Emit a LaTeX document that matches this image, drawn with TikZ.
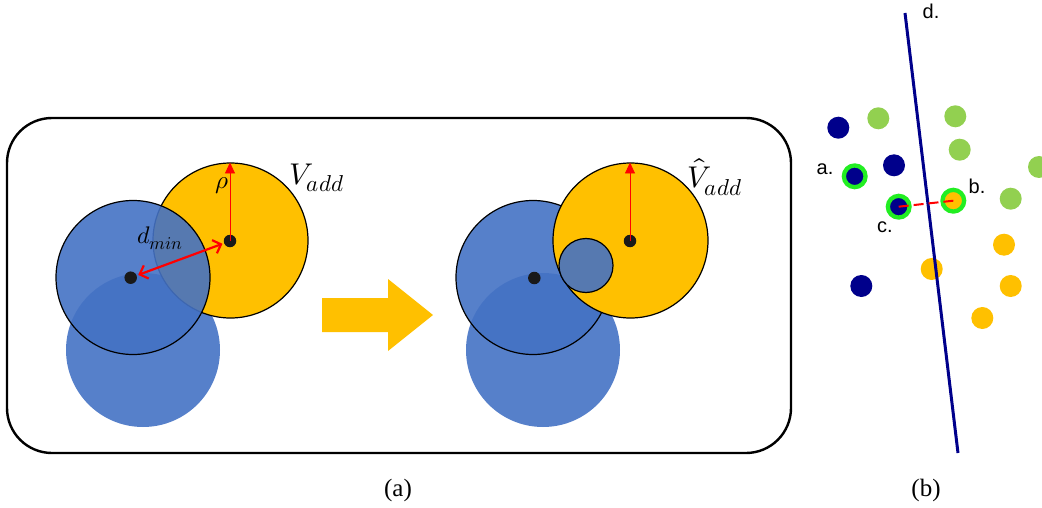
\documentclass[tikz,border=0pt]{standalone}
\usepackage{fontspec}
\usepackage{unicode-math}
\setmainfont{Liberation Serif}
\newfontfamily\labelsans{Liberation Sans}
\usetikzlibrary{arrows.meta}

\definecolor{ambr}{HTML}{FFC000}
\definecolor{cblue}{HTML}{4472C4}
\definecolor{lgreen}{HTML}{92D050}
\definecolor{navy}{HTML}{00008B}
\definecolor{ring}{HTML}{22EE22}

\tikzset{
  disk/.style={circle, inner sep=0pt, outer sep=0pt},
  softblue/.style={disk, fill=cblue, fill opacity=0.9, minimum size=154pt},
  edgeblue/.style={softblue, draw=black, draw opacity=1, line width=1.2pt},
  amberdisk/.style={disk, fill=ambr, draw=black, line width=1.2pt, minimum size=155pt},
  centre/.style={disk, fill=black!90, minimum size=12.5pt},
  radius arrow/.style={red, line width=0.9pt, -{Triangle[length=11pt,width=10pt]}},
  gap arrow/.style={red, line width=2.2pt, {Straight Barb[length=7pt,width=14pt]}-{Straight Barb[length=7pt,width=14pt]}},
  dot/.style={disk, minimum size=22pt},
  picked/.style={disk, draw=ring, line width=4.3pt, minimum size=21.7pt},
  ptlabel/.style={font=\labelsans\fontsize{20}{20}\selectfont, inner sep=0pt},
  caption/.style={font=\fontsize{25}{25}\selectfont, inner sep=0pt},
  mlabel/.style={inner sep=0pt},
}

\begin{document}
\begin{tikzpicture}[x=1pt, y=-1pt]
\useasboundingbox (0,0) rectangle (1042,508);
\clip (0,0) rectangle (1042,508);

% frame around panel (a)
\draw[line width=2.4pt, rounded corners=45pt] (7,118) rectangle (791,453);

% ---------- panel (a), left: before ----------
\node[softblue] (L0) at (143,350) {};
\node[amberdisk] (LV) at (230.5,240.5) {};
\node[edgeblue] (L1) at (133,277.5) {};
\node[centre] (Lc) at (130.7,277.7) {};
\node[centre] (Lv) at (230,241) {};
\coordinate (Ltop) at (230,162.5);
\draw[radius arrow] (Lv.center) -- (Ltop);
\draw[gap arrow, shorten <=8pt, shorten >=8pt] (Lc.center) -- (Lv.center);
\node[mlabel] (rho) at (222,186) {\fontsize{25}{25}\selectfont$\rho$};
\node[mlabel] (dmin) at (160,238) {\fontsize{24}{24}\selectfont$d_{\mbox{\fontsize{18}{18}\selectfont$min$}}$};
\node[mlabel] (Vadd) at (317,178) {\fontsize{30}{30}\selectfont$V_{\mbox{\fontsize{23}{23}\selectfont$add$}}$};

% transition arrow
\fill[ambr] (322,298) -- (388,298) -- (388,279) -- (433,315) -- (388,351) -- (388,332) -- (322,332) -- cycle;

% ---------- panel (a), right: after ----------
\node[softblue] (R0) at (543,350) {};
\node[edgeblue] (R1) at (533,277.5) {};
\node[amberdisk] (RV) at (630.5,240.5) {};
\node[disk, fill=cblue, fill opacity=0.9, draw=black, draw opacity=1, line width=1.2pt, minimum size=54pt] (Rs) at (586,265.5) {};
\node[centre] (Rc) at (534.3,278) {};
\node[centre] (Rv) at (630,241) {};
\coordinate (Rtop) at (630,162.5);
\draw[radius arrow] (Rv.center) -- (Rtop);
\node[mlabel] (Vhat) at (715,177) {\fontsize{30}{30}\selectfont$\hat{V}_{\mbox{\fontsize{23}{23}\selectfont$add$}}$};

% ---------- panel (b) ----------
\node[dot, fill=navy] (n1) at (838.3,127.7) {};
\node[dot, fill=navy] (n2) at (894,165.3) {};
\node[dot, fill=navy] (n3) at (861.3,286) {};
\node[dot, fill=lgreen] (g1) at (878.3,118.3) {};
\node[dot, fill=lgreen] (g2) at (955.3,116.3) {};
\node[dot, fill=lgreen] (g3) at (959.7,149.7) {};
\node[dot, fill=lgreen] (g4) at (1039,167) {};
\node[dot, fill=lgreen] (g5) at (1010.7,198.7) {};
\node[dot, fill=ambr] (o1) at (931.7,269) {};
\node[dot, fill=ambr] (o2) at (1004,244.7) {};
\node[dot, fill=ambr] (o3) at (1010.7,286) {};
\node[dot, fill=ambr] (o4) at (982.3,318) {};
\node[picked, fill=navy] (pa) at (854.7,176.3) {};
\node[picked, fill=navy] (pc) at (898.7,206.7) {};
\node[picked, fill=ambr] (pb) at (953.3,200.7) {};

% separating line
\coordinate (dtop) at (905,13);
\coordinate (dbot) at (958,453);
\draw[navy, line width=3pt] (dtop) -- (dbot);

% nearest opposite-class pair
\draw[red, line width=2pt, dash pattern=on 10pt off 5pt] (pc.center) -- (pb.center);

\node[ptlabel] (la) at (825,169) {a.};
\node[ptlabel] (lb) at (977,186) {b.};
\node[ptlabel] (lc) at (885,227) {c.};
\node[ptlabel] (ld) at (931,11) {d.};

% captions
\node[caption] (capa) at (398,490) {(a)};
\node[caption] (capb) at (926,490) {(b)};
\end{tikzpicture}
\end{document}
